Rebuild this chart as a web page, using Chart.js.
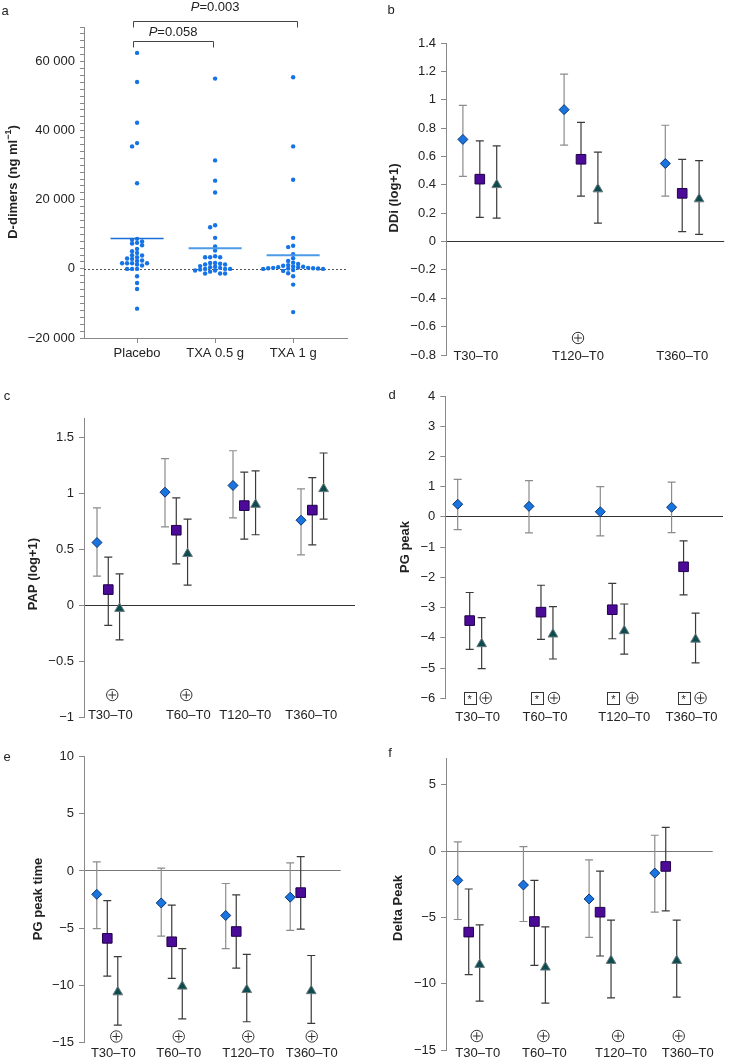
<!DOCTYPE html>
<html>
<head>
<meta charset="utf-8">
<title>TXA coagulation panels</title>
<script src="https://cdn.jsdelivr.net/npm/chart.js@4.4.1/dist/chart.umd.min.js"></script>
<style>
  body { margin: 0; background: #fff; }
  #wrap { position: relative; width: 732px; height: 1063px; }
  canvas { position: absolute; }
</style>
</head>
<body>
<div id="wrap">
  <canvas id="ca" width="366" height="370" style="left:0;top:0"></canvas>
  <canvas id="cb" width="366" height="370" style="left:366px;top:0"></canvas>
  <canvas id="cc" width="366" height="360" style="left:0;top:370px"></canvas>
  <canvas id="cd" width="366" height="360" style="left:366px;top:370px"></canvas>
  <canvas id="ce" width="366" height="333" style="left:0;top:730px"></canvas>
  <canvas id="cf" width="366" height="333" style="left:366px;top:730px"></canvas>
</div>
<script>
// ---- panel a: D-dimers, one dot per patient ----
const groupsA = ['Placebo', 'TXA 0.5 g', 'TXA 1 g'];
const ddPlacebo = [62500, 54100, 42300, 36400, 35450, 24800, 8690, 8400, 7960, 7530, 7330, 6850,
  5790, 5110, 4630, 3950, 3860, 3370, 2990, 2890, 2410, 2310, 1630, 1630, 1630, 1630, 1250, 960,
  0, 0, 0, -2140, -4070, -5810, -11500];
const ddTxa05 = [55070, 31390, 25530, 22110, 12640, 12060, 8980, 6460, 5300, 3660, 3370, 3370, 3370,
  1720, 1720, 1500, 1250, 1250, 800, 600, 500, 300, 0, 0, 0, -200, -480, -480, -800, -1350, -1350, -1350];
const ddTxa1 = [55450, 35450, 25800, 8980, 6700, 6300, 4240, 3080, 2310, 1800, 1400, 1100, 900, 700,
  600, 500, 400, 300, 300, 200, 200, 100, 100, 0, 0, -300, -580, -1270, -2140, -4550, -12500];
const ddMeans = [8780, 5970, 3940];
const ddPvalues = ['0.058', '0.003'];   // placebo vs 0.5 g, placebo vs 1 g

// ---- panels b-f: change from T0, mean with 95% CI (placebo, TXA 0.5 g, TXA 1 g) ----
const times3 = ['T30–T0', 'T120–T0', 'T360–T0'];
const times4 = ['T30–T0', 'T60–T0', 'T120–T0', 'T360–T0'];

const ddiPlac = [0.72, 0.93, 0.55],  ddiPlacLo = [0.46, 0.68, 0.32],  ddiPlacHi = [0.96, 1.18, 0.82];
const ddiTxa05 = [0.44, 0.58, 0.34], ddiTxa05Lo = [0.17, 0.32, 0.07], ddiTxa05Hi = [0.71, 0.84, 0.58];
const ddiTxa1 = [0.40, 0.37, 0.30],  ddiTxa1Lo = [0.165, 0.13, 0.05], ddiTxa1Hi = [0.675, 0.63, 0.57];
const ddiSig = ['', '+', ''];

const papPlac = [0.56, 1.01, 1.07, 0.76],   papPlacLo = [0.26, 0.70, 0.78, 0.45],    papPlacHi = [0.87, 1.31, 1.38, 1.04];
const papTxa05 = [0.14, 0.67, 0.89, 0.85],  papTxa05Lo = [-0.18, 0.37, 0.59, 0.54],  papTxa05Hi = [0.43, 0.96, 1.19, 1.14];
const papTxa1 = [-0.03, 0.46, 0.90, 1.04],  papTxa1Lo = [-0.31, 0.18, 0.63, 0.77],   papTxa1Hi = [0.28, 0.77, 1.20, 1.36];
const papSig = ['+', '+', '', ''];

const pgPlac = [0.42, 0.35, 0.17, 0.32],       pgPlacLo = [-0.42, -0.53, -0.63, -0.52],  pgPlacHi = [1.24, 1.20, 1.00, 1.15];
const pgTxa05 = [-3.43, -3.15, -3.07, -1.65],  pgTxa05Lo = [-4.38, -4.05, -4.03, -2.58], pgTxa05Hi = [-2.50, -2.26, -2.20, -0.79];
const pgTxa1 = [-4.20, -3.88, -3.77, -4.05],   pgTxa1Lo = [-5.02, -4.70, -4.54, -4.83],  pgTxa1Hi = [-3.33, -2.97, -2.88, -3.18];
const pgSig = ['*+', '*+', '*+', '*+'];

const ptPlac = [-2.05, -2.8, -3.9, -2.3],     ptPlacLo = [-5.05, -5.7, -6.8, -5.2],      ptPlacHi = [0.8, 0.25, -1.1, 0.7];
const ptTxa05 = [-5.9, -6.2, -5.3, -1.9],     ptTxa05Lo = [-9.2, -9.4, -8.5, -5.1],      ptTxa05Hi = [-2.6, -3.0, -2.1, 1.25];
const ptTxa1 = [-10.6, -10.1, -10.4, -10.5],  ptTxa1Lo = [-13.5, -12.95, -13.2, -13.35], ptTxa1Hi = [-7.5, -6.8, -7.3, -7.4];
const ptSig = ['+', '+', '+', '+'];

const dpPlac = [-2.2, -2.55, -3.6, -1.65],     dpPlacLo = [-5.15, -5.3, -6.5, -4.6],     dpPlacHi = [0.7, 0.35, -0.65, 1.2];
const dpTxa05 = [-6.1, -5.3, -4.6, -1.15],     dpTxa05Lo = [-9.3, -8.6, -7.9, -4.5],     dpTxa05Hi = [-2.85, -2.2, -1.5, 1.8];
const dpTxa1 = [-8.55, -8.75, -8.25, -8.25],   dpTxa1Lo = [-11.3, -11.45, -11.05, -11.0], dpTxa1Hi = [-5.55, -5.7, -5.2, -5.2];
const dpSig = ['+', '+', '+', '+'];

const FONT = '"Liberation Sans", Arial, sans-serif';
Chart.defaults.font.family = FONT;
Chart.defaults.font.size = 13;
Chart.defaults.color = '#222';

const minus = s => s.replace('-', '\u2212');
const fmtDec = v => minus(String(+v.toFixed(2)));
const fmtThousands = v => minus(String(v).replace(/\B(?=(\d{3})+(?!\d))/g, ' '));

const markerStyles = [
  { style: 'rectRot',  r: 5,   bg: '#1a74e0', border: '#0b3570', err: '#8c8c8c' },
  { style: 'rect',     r: 6.8, bg: '#4b0a98', border: '#22004a', err: '#3a3a3a' },
  { style: 'triangle', r: 5.6, bg: '#0c4b50', border: '#6c7a7a', err: '#3a3a3a' }
];

function vtitle(ctx, parts, x, y) {
  // parts: [[text, sup?], ...] drawn rotated, centred on (x, y)
  ctx.save();
  ctx.translate(x, y);
  ctx.rotate(-Math.PI / 2);
  ctx.textBaseline = 'middle';
  ctx.textAlign = 'left';
  const big = 'bold 13px ' + FONT, small = 'bold 9px ' + FONT;
  let w = 0;
  parts.forEach(p => { ctx.font = p[1] ? small : big; w += ctx.measureText(p[0]).width; });
  let cx = -w / 2;
  parts.forEach(p => {
    ctx.font = p[1] ? small : big;
    ctx.fillText(p[0], cx, p[1] ? -4 : 0);
    cx += ctx.measureText(p[0]).width;
  });
  ctx.restore();
}

function circlePlus(ctx, x, y) {
  ctx.save();
  ctx.strokeStyle = '#333';
  ctx.lineWidth = 1;
  ctx.beginPath();
  ctx.arc(x, y, 5.7, 0, Math.PI * 2);
  ctx.moveTo(x - 3.8, y); ctx.lineTo(x + 3.8, y);
  ctx.moveTo(x, y - 3.8); ctx.lineTo(x, y + 3.8);
  ctx.stroke();
  ctx.restore();
}

function starBox(ctx, x, y) {
  ctx.save();
  ctx.strokeStyle = '#333';
  ctx.lineWidth = 1;
  ctx.strokeRect(Math.round(x - 6) + 0.5, Math.round(y - 6) + 0.5, 12, 12);
  ctx.fillStyle = '#222';
  ctx.font = '11px ' + FONT;
  ctx.textAlign = 'center';
  ctx.textBaseline = 'middle';
  ctx.fillText('*', x, y + 2);
  ctx.restore();
}

const errorBars = {
  id: 'errorBars',
  beforeDatasetsDraw(chart) {
    const ctx = chart.ctx, xs = chart.scales.x, ys = chart.scales.y;
    chart.data.datasets.forEach(ds => {
      if (!ds.lo) return;
      ctx.save();
      ctx.strokeStyle = ds.errColor;
      ctx.lineWidth = 1.2;
      ds.data.forEach((p, i) => {
        const x = xs.getPixelForValue(p.x);
        const y1 = ys.getPixelForValue(ds.lo[i]), y2 = ys.getPixelForValue(ds.hi[i]);
        ctx.beginPath();
        ctx.moveTo(x, y1); ctx.lineTo(x, y2);
        ctx.moveTo(x - 4, y1); ctx.lineTo(x + 4, y1);
        ctx.moveTo(x - 4, y2); ctx.lineTo(x + 4, y2);
        ctx.stroke();
      });
      ctx.restore();
    });
  }
};

// ---- panel a ----
function swarm(values, center, step, minDy) {
  const placed = [];
  return values.slice().sort((a, b) => b - a).map(v => {
    let k = 0;
    for (let n = 0; ; n++) {
      k = n === 0 ? 0 : (n % 2 ? -(n + 1) / 2 : n / 2);
      if (!placed.some(p => p.k === k && Math.abs(p.v - v) < minDy)) break;
    }
    placed.push({ k, v });
    return { x: center + k * step, y: v };
  });
}

const dotSets = [ddPlacebo, ddTxa05, ddTxa1].map((vals, g) => ({
  type: 'scatter',
  data: swarm(vals, g + 1, 0.064, 1000),
  pointRadius: 2.2,
  backgroundColor: '#1673e6',
  borderWidth: 0
}));
const meanSets = ddMeans.map((m, g) => ({
  type: 'line',
  data: [{ x: g + 1 - 0.34, y: m }, { x: g + 1 + 0.34, y: m }],
  borderColor: g === 0 ? '#1a6fd6' : '#4d9be6',
  borderWidth: g === 0 ? 1.6 : 2,
  pointRadius: 0
}));

const panelAExtras = {
  id: 'panelAExtras',
  beforeDatasetsDraw(chart) {
    const ctx = chart.ctx, a = chart.chartArea, ys = chart.scales.y;
    const y0 = Math.round(ys.getPixelForValue(0)) + 0.5;
    ctx.save();
    ctx.strokeStyle = '#555';
    ctx.setLineDash([2, 2]);
    ctx.beginPath();
    ctx.moveTo(a.left, y0); ctx.lineTo(a.right, y0);
    ctx.stroke();
    ctx.restore();
  },
  afterDraw(chart) {
    const ctx = chart.ctx, xs = chart.scales.x;
    ctx.save();
    ctx.fillStyle = '#222';
    ctx.textBaseline = 'middle';
    ctx.textAlign = 'center';
    ctx.font = '13px ' + FONT;
    ctx.fillText('a', 5, 11);
    // comparison brackets
    const brackets = [
      { x1: xs.getPixelForValue(1) - 4, x2: xs.getPixelForValue(2) - 2, y: 41.5, leg: 6, ty: 32, p: ddPvalues[0] },
      { x1: xs.getPixelForValue(1) - 4, x2: xs.getPixelForValue(3) + 4, y: 21.5, leg: 6, ty: 7.5, p: ddPvalues[1] }
    ];
    ctx.strokeStyle = '#444';
    ctx.lineWidth = 1;
    brackets.forEach(b => {
      const x1 = Math.round(b.x1) + 0.5, x2 = Math.round(b.x2) + 0.5;
      ctx.beginPath();
      ctx.moveTo(x1, b.y + b.leg); ctx.lineTo(x1, b.y); ctx.lineTo(x2, b.y); ctx.lineTo(x2, b.y + b.leg);
      ctx.stroke();
      ctx.font = 'italic 13px ' + FONT;
      const wp = ctx.measureText('P').width;
      ctx.font = '13px ' + FONT;
      const wr = ctx.measureText('=' + b.p).width;
      const left = (b.x1 + b.x2) / 2 - (wp + wr) / 2;
      ctx.textAlign = 'left';
      ctx.font = 'italic 13px ' + FONT;
      ctx.fillText('P', left, b.ty);
      ctx.font = '13px ' + FONT;
      ctx.fillText('=' + b.p, left + wp, b.ty);
    });
    vtitle(ctx, [['D-dimers (ng ml'], ['\u22121', true], [')']], 13, 182);
    ctx.restore();
  }
};

new Chart(document.getElementById('ca'), {
  type: 'scatter',
  data: { datasets: [...meanSets, ...dotSets] },
  options: {
    responsive: false,
    animation: false,
    events: [],
    layout: { padding: { left: 0, top: 27, right: 19, bottom: 0 } },
    plugins: { legend: { display: false }, tooltip: { enabled: false } },
    scales: {
      x: {
        type: 'linear', min: 0.32, max: 3.69,
        afterBuildTicks: s => { s.ticks = [1, 2, 3].map(v => ({ value: v })); },
        afterFit: s => { s.height = 32; },
        ticks: { callback: v => groupsA[v - 1], autoSkip: false, maxRotation: 0, padding: 3 },
        grid: { drawOnChartArea: false, tickLength: 5, tickColor: '#888' },
        border: { color: '#888' }
      },
      y: {
        type: 'linear', min: -20000, max: 70000,
        afterFit: s => { s.width = 84; },
        ticks: {
          stepSize: 2000, autoSkip: false, padding: 5,
          callback: v => (v % 20000 === 0 ? fmtThousands(v) : '')
        },
        grid: { drawOnChartArea: false, tickLength: 4, tickColor: '#888' },
        border: { color: '#888' }
      }
    }
  },
  plugins: [panelAExtras]
});

// ---- panels b-f ----
function errPanel(id, cfg) {
  const datasets = cfg.series.map((s, k) => ({
    data: s[0].map((m, i) => ({ x: i + 1 + (k - 1) * cfg.spread, y: m })),
    lo: s[1], hi: s[2],
    errColor: markerStyles[k].err,
    pointStyle: markerStyles[k].style,
    pointRadius: markerStyles[k].r,
    backgroundColor: markerStyles[k].bg,
    borderColor: markerStyles[k].border,
    borderWidth: 1
  }));
  const annot = {
    id: 'annot',
    afterDraw(chart) {
      const ctx = chart.ctx, xs = chart.scales.x;
      ctx.save();
      ctx.fillStyle = '#222';
      ctx.textAlign = 'center';
      ctx.textBaseline = 'middle';
      ctx.font = '13px ' + FONT;
      ctx.fillText(cfg.letter, cfg.letterPos[0], cfg.letterPos[1]);
      cfg.times.forEach((t, i) => ctx.fillText(t, xs.getPixelForValue(i + 1) + cfg.labelShift[i], cfg.labelY));
      cfg.sig.forEach((s, i) => {
        const cx = xs.getPixelForValue(i + 1);
        if (s.includes('*')) starBox(ctx, cx + cfg.boxShift[i], cfg.sigY);
        if (s.includes('+')) circlePlus(ctx, cx + cfg.plusShift[i], cfg.sigY);
      });
      vtitle(ctx, [[cfg.title]], cfg.titlePos[0], cfg.titlePos[1]);
      ctx.restore();
    }
  };
  new Chart(document.getElementById(id), {
    type: 'scatter',
    data: { datasets },
    options: {
      responsive: false,
      animation: false,
      events: [],
      layout: { padding: { left: 0, top: cfg.pad[0], right: cfg.pad[1], bottom: cfg.pad[2] } },
      plugins: { legend: { display: false }, tooltip: { enabled: false } },
      scales: {
        x: { type: 'linear', display: false, min: cfg.x[0], max: cfg.x[1] },
        y: {
          type: 'linear', min: cfg.y[0], max: cfg.y[1],
          afterFit: s => { s.width = cfg.yw; },
          ticks: { stepSize: cfg.y[2], includeBounds: false, autoSkip: false, padding: 5, callback: fmtDec },
          grid: {
            tickLength: 5, tickColor: '#888', lineWidth: 1,
            color: c => (c.tick && Math.abs(c.tick.value) < 1e-9 ? cfg.zeroColor : 'rgba(0,0,0,0)')
          },
          border: { color: '#888' }
        }
      }
    },
    plugins: [errorBars, annot]
  });
}

errPanel('cb', {
  letter: 'b', letterPos: [25, 10], title: 'DDi (log+1)', titlePos: [28, 198],
  times: times3, sig: ddiSig,
  series: [[ddiPlac, ddiPlacLo, ddiPlacHi], [ddiTxa05, ddiTxa05Lo, ddiTxa05Hi], [ddiTxa1, ddiTxa1Lo, ddiTxa1Hi]],
  y: [-0.8, 1.4, 0.2], x: [0.666, 3.415], spread: 0.167,
  pad: [43, 6, 15], yw: 80, zeroColor: '#333',
  labelY: 356, labelShift: [-4, -3, 0],
  sigY: 338, plusShift: [-3, -3, -3], boxShift: [0, 0, 0]
});

errPanel('cc', {
  letter: 'c', letterPos: [7, 26], title: 'PAP (log+1)', titlePos: [33, 204],
  times: times4, sig: papSig,
  series: [[papPlac, papPlacLo, papPlacHi], [papTxa05, papTxa05Lo, papTxa05Hi], [papTxa1, papTxa1Lo, papTxa1Hi]],
  y: [-1, 1.67, 0.5], x: [0.643, 4.628], spread: 0.166,
  pad: [48.3, 11, 12.7], yw: 84, zeroColor: '#333',
  labelY: 345, labelShift: [2, 12, 1, -1],
  sigY: 325, plusShift: [4, 10, 0, 0], boxShift: [0, 0, 0, 0]
});

errPanel('cd', {
  letter: 'd', letterPos: [26, 25], title: 'PG peak', titlePos: [39, 177],
  times: times4, sig: pgSig,
  series: [[pgPlac, pgPlacLo, pgPlacHi], [pgTxa05, pgTxa05Lo, pgTxa05Hi], [pgTxa1, pgTxa1Lo, pgTxa1Hi]],
  y: [-6, 4, 1], x: [0.658, 4.553], spread: 0.168,
  pad: [26, 9, 31.7], yw: 79.3, zeroColor: '#333',
  labelY: 347, labelShift: [8, 4, 12, 8],
  sigY: 328, plusShift: [16, 13, 20, 17], boxShift: [0, -4, 1, 0]
});

errPanel('ce', {
  letter: 'e', letterPos: [7, 27], title: 'PG peak time', titlePos: [38, 169],
  times: times4, sig: ptSig,
  series: [[ptPlac, ptPlacLo, ptPlacHi], [ptTxa05, ptTxa05Lo, ptTxa05Hi], [ptTxa1, ptTxa1Lo, ptTxa1Hi]],
  y: [-15, 10, 5], x: [0.639, 4.62], spread: 0.163,
  pad: [26.7, 25.3, 20.7], yw: 84, zeroColor: '#777',
  labelY: 323, labelShift: [6, 7, 12, 11],
  sigY: 306.5, plusShift: [9, 7, 12, 11], boxShift: [0, 0, 0, 0]
});

errPanel('cf', {
  letter: 'f', letterPos: [24, 23], title: 'Delta Peak', titlePos: [32, 178],
  times: times4, sig: dpSig,
  series: [[dpPlac, dpPlacLo, dpPlacHi], [dpTxa05, dpTxa05Lo, dpTxa05Hi], [dpTxa1, dpTxa1Lo, dpTxa1Hi]],
  y: [-15, 7, 5], x: [0.654, 4.715], spread: 0.167,
  pad: [28.3, 19.3, 12], yw: 80, zeroColor: '#777',
  labelY: 323, labelShift: [9, 10, 21, 22],
  sigY: 306, plusShift: [8, 9, 18, 13], boxShift: [0, 0, 0, 0]
});
</script>
</body>
</html>
